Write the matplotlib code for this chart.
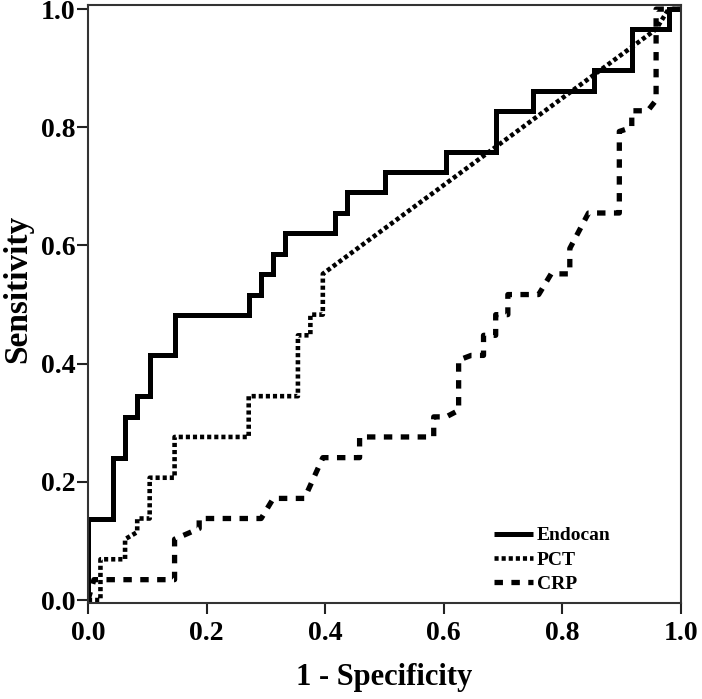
import matplotlib
matplotlib.use('Agg')
import matplotlib.pyplot as plt

plt.rcParams['font.family'] = ['Liberation Serif', 'DejaVu Serif']
plt.rcParams['font.weight'] = 'bold'

# Endocan ROC (step curve, steps-post)
endocan_fpr = [0, 0, 0.042, 0.0625, 0.083, 0.104, 0.146, 0.271, 0.292, 0.3125, 0.333,
               0.417, 0.4375, 0.5, 0.604, 0.6875, 0.75, 0.854, 0.917, 0.979, 1.0]
endocan_tpr = [0, 0.138, 0.241, 0.310, 0.345, 0.414, 0.483, 0.517, 0.552, 0.586, 0.621,
               0.655, 0.690, 0.724, 0.759, 0.828, 0.862, 0.897, 0.966, 1.0, 1.0]

# PCT ROC (vertices)
pct_fpr = [0, 0.021, 0.021, 0.0625, 0.0625, 0.083, 0.083, 0.104, 0.104, 0.146, 0.146,
           0.271, 0.271, 0.354, 0.354, 0.375, 0.375, 0.396, 0.396, 0.958, 0.979, 1.0]
pct_tpr = [0, 0, 0.069, 0.069, 0.103, 0.115, 0.138, 0.138, 0.207, 0.207, 0.276,
           0.276, 0.345, 0.345, 0.448, 0.448, 0.483, 0.483, 0.552, 0.966, 1.0, 1.0]

# CRP ROC (vertices)
crp_fpr = [0, 0.01, 0.146, 0.146, 0.1875, 0.1875, 0.292, 0.3125, 0.365, 0.396, 0.458, 0.458,
           0.583, 0.583, 0.604, 0.625, 0.625, 0.646, 0.667, 0.667, 0.6875, 0.6875, 0.708, 0.708,
           0.76, 0.781, 0.8125, 0.8125, 0.844, 0.896, 0.896, 0.917, 0.917, 0.944, 0.958, 0.958, 1.0]
crp_tpr = [0, 0.0345, 0.0345, 0.103, 0.121, 0.138, 0.138, 0.172, 0.172, 0.241, 0.241, 0.276,
           0.276, 0.310, 0.310, 0.321, 0.406, 0.414, 0.414, 0.448, 0.448, 0.483, 0.483, 0.517,
           0.517, 0.552, 0.552, 0.595, 0.655, 0.655, 0.793, 0.80, 0.828, 0.828, 0.846, 1.0, 1.0]

series_labels = ['Endocan', 'PCT', 'CRP']
tick_values = [0.0, 0.2, 0.4, 0.6, 0.8, 1.0]
tick_labels = ['0.0', '0.2', '0.4', '0.6', '0.8', '1.0']

fig = plt.figure(figsize=(7.02, 6.99), dpi=100)
ax = fig.add_axes([88 / 702, 1 - 603 / 699, 593 / 702, 598 / 699])

ax.step(endocan_fpr, endocan_tpr, where='post', color='black', lw=3.6,
        solid_joinstyle='miter', solid_capstyle='butt', label=series_labels[0])
ax.plot(pct_fpr, pct_tpr, color='black', lw=3.3, linestyle=(0, (0.9, 0.65)),
        dash_capstyle='butt', label=series_labels[1])
ax.plot(crp_fpr, crp_tpr, color='black', lw=3.8, linestyle=(0, (1.6, 1.6)),
        dash_capstyle='butt', label=series_labels[2])

ax.set_xlim(0, 1.0)
ax.set_ylim(-0.005, 1.007)
ax.set_xticks(tick_values)
ax.set_xticklabels(tick_labels)
ax.set_yticks(tick_values)
ax.set_yticklabels(tick_labels)
ax.tick_params(direction='out', length=8, width=1.5, labelsize=20, pad=1, color='#222222')
ax.tick_params(axis='x', pad=5)
for s in ax.spines.values():
    s.set_linewidth(1.5)
    s.set_color('#333333')

ax.set_xlabel('1 - Specificity', fontsize=22, fontweight='bold', labelpad=12)
ax.set_ylabel('Sensitivity', fontsize=24, fontweight='bold')
ax.yaxis.set_label_coords(-0.092, 0.525)

leg = ax.legend(loc='center left', bbox_to_anchor=(0.685, 0.072), frameon=False,
                fontsize=14, handlelength=2.0, handletextpad=0.2, labelspacing=0.35,
                borderpad=0, borderaxespad=0)

fig.savefig('out.png', dpi=100)
